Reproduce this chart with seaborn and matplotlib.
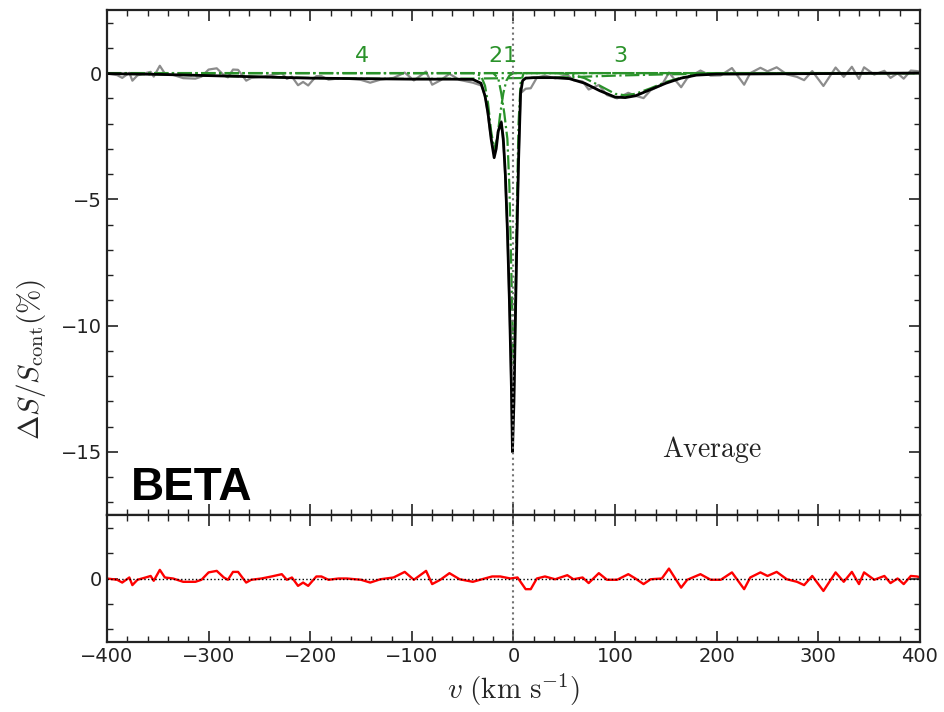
import matplotlib
matplotlib.use("Agg")
import matplotlib.pyplot as plt
from matplotlib.ticker import MultipleLocator
import seaborn as sns
import pandas as pd

spec_v = [-400, -390, -385, -378, -375, -370, -362, -357, -354, -348, -343, -335, -325, -313,
          -307, -300, -292, -285, -281, -276, -271, -263, -258, -248, -238, -228, -223, -218,
          -212, -207, -202, -194, -189, -182, -172, -164, -150, -141, -131, -118, -107, -98,
          -86, -80, -72, -63, -53, -40, -31, -27, -23, -19, -15, -12, -9, -6, -3, -1, 1, 3,
          5, 7, 12, 17, 23, 31, 41, 53, 59, 68, 74, 84, 92, 102, 113, 120, 128, 135, 146,
          153, 165, 171, 184, 194, 204, 215, 227, 233, 243, 250, 259, 269, 279, 286, 294,
          305, 317, 325, 333, 340, 345, 355, 365, 371, 378, 384, 391, 397, 400]
spec_vals = [-0.02, -0.08, -0.19, 0.01, -0.30, -0.09, 0.00, 0.05, -0.14, 0.29, -0.02, -0.07,
             -0.20, -0.22, -0.14, 0.14, 0.19, -0.08, -0.17, 0.14, 0.13, -0.30, -0.19, -0.15,
             -0.08, 0.00, -0.23, -0.14, -0.48, -0.35, -0.49, -0.12, -0.12, -0.26, -0.21, -0.22,
             -0.27, -0.38, -0.26, -0.19, 0.02, -0.29, 0.06, -0.46, -0.29, -0.03, -0.27, -0.38,
             -0.50, -1.10, -2.30, -3.20, -2.30, -1.90, -3.30, -6.20, -10.6, -14.8, -11.8, -7.2,
             -3.4, -0.8, -0.62, -0.60, -0.18, -0.10, -0.21, -0.07, -0.28, -0.33, -0.65, -0.47,
             -0.87, -1.00, -0.78, -0.90, -0.99, -0.68, -0.47, 0.02, -0.56, -0.20, 0.10, -0.10,
             -0.09, 0.20, -0.46, 0.00, 0.21, 0.07, 0.23, -0.05, -0.15, -0.28, 0.08, -0.51, 0.22,
             -0.15, 0.25, -0.23, 0.23, -0.06, 0.09, -0.19, -0.01, -0.22, 0.10, 0.08, 0.05]

# Total fit (black)
fit_v = [-400, -350, -300, -250, -200, -150, -100, -60, -40, -32, -28, -25, -22, -19, -17,
         -15, -12, -10, -8, -6, -4, -2, -1, 0.5, 2, 3.6, 5, 7, 9, 12, 20, 40, 55, 70, 85,
         100, 110, 120, 135, 150, 165, 180, 200, 250, 300, 350, 400]
fit_vals = [-0.02, -0.05, -0.10, -0.15, -0.20, -0.22, -0.24, -0.24, -0.25, -0.40, -0.90,
            -1.60, -2.60, -3.35, -3.00, -2.30, -1.95, -2.60, -4.00, -6.20, -9.00, -12.5,
            -15.0, -13.0, -9.5, -6.1, -3.5, -0.8, -0.3, -0.2, -0.18, -0.18, -0.22, -0.40,
            -0.70, -0.95, -0.97, -0.90, -0.65, -0.40, -0.20, -0.08, -0.04, -0.03, -0.02,
            -0.01, 0.00]

# Individual components (green dash-dot)
comp1_v = [-400, -20, -15, -12, -9, -6, -4, -2, 0, 1, 3, 5, 7, 10, 20, 400]
comp1_vals = [0, 0, -0.2, -0.8, -1.6, -2.6, -4.5, -8.0, -11.5, -11.5, -6.0, -2.0, -0.4, 0, 0, 0]
comp2_v = [-400, -40, -32, -28, -25, -22, -19, -16, -13, -10, -7, -4, 0, 400]
comp2_vals = [0, 0, -0.1, -0.5, -1.2, -2.3, -3.0, -2.6, -1.6, -0.8, -0.3, -0.1, 0, 0]
comp3_v = [-400, 40, 55, 70, 85, 100, 110, 120, 135, 150, 165, 180, 200, 220, 400]
comp3_vals = [0, 0, -0.03, -0.2, -0.5, -0.82, -0.88, -0.82, -0.6, -0.35, -0.18, -0.06, -0.01, 0, 0]
comp4_v = [-400, -350, -300, -250, -200, -150, -100, -50, 0, 50, 100, 150, 200, 250, 300, 400]
comp4_vals = [-0.02, -0.05, -0.10, -0.15, -0.19, -0.22, -0.23, -0.22, -0.20, -0.17, -0.10,
              -0.05, -0.02, -0.01, 0, 0]

comp_labels = ["1", "2", "3", "4"]
comp_label_v = [-4, -18, 105, -149]

# Residuals (red)
resid_v = [-400, -390, -385, -378, -375, -370, -362, -357, -354, -348, -343, -335, -325, -313,
           -307, -300, -292, -285, -281, -276, -271, -263, -258, -248, -238, -228, -223, -218,
           -212, -207, -202, -194, -189, -182, -172, -164, -150, -141, -131, -118, -107, -98,
           -86, -80, -72, -63, -53, -40, -31, -21, -13, -3, 4, 12, 17, 23, 31, 41, 53, 59, 68,
           74, 84, 92, 102, 113, 120, 128, 135, 146, 153, 165, 171, 184, 194, 204, 215, 227,
           233, 243, 250, 259, 269, 279, 286, 294, 305, 317, 325, 333, 340, 345, 355, 365,
           371, 378, 384, 391, 397, 400]
resid_vals = [0.0, -0.05, -0.16, 0.04, -0.26, -0.05, 0.04, 0.10, -0.09, 0.34, 0.04, 0.0,
              -0.13, -0.13, -0.05, 0.24, 0.30, 0.04, -0.05, 0.26, 0.26, -0.16, -0.05, 0.0,
              0.08, 0.17, -0.05, 0.04, -0.29, -0.16, -0.29, 0.08, 0.08, -0.05, 0.0, 0.0,
              -0.05, -0.16, -0.03, 0.04, 0.26, -0.05, 0.30, -0.22, -0.05, 0.21, -0.03, -0.13,
              -0.03, 0.08, 0.08, 0.0, 0.04, -0.42, -0.42, 0.0, 0.08, -0.03, 0.13, -0.03, 0.04,
              -0.18, 0.21, -0.05, -0.05, 0.17, 0.0, -0.22, -0.03, 0.0, 0.39, -0.36, -0.05,
              0.17, -0.05, -0.05, 0.24, -0.42, 0.04, 0.24, 0.10, 0.26, -0.03, -0.13, -0.26,
              0.10, -0.49, 0.24, -0.13, 0.26, -0.22, 0.24, -0.05, 0.10, -0.18, 0.0, -0.22,
              0.10, 0.08, 0.05]

sns.set_theme(style="ticks")
plt.rcParams.update({
    "font.family": ["DejaVu Sans"],
    "mathtext.fontset": "cm",
    "xtick.direction": "in",
    "ytick.direction": "in",
    "xtick.top": True,
    "ytick.right": True,
    "xtick.major.size": 8,
    "ytick.major.size": 8,
    "xtick.minor.size": 4,
    "ytick.minor.size": 4,
    "xtick.major.width": 1.2,
    "ytick.major.width": 1.2,
    "xtick.minor.width": 1.0,
    "ytick.minor.width": 1.0,
    "axes.linewidth": 1.6,
    "axes.edgecolor": "#222222",
    "xtick.color": "#222222",
    "ytick.color": "#222222",
})

fig = plt.figure(figsize=(9.45, 7.12), dpi=100)
ax = fig.add_axes([0.1132, 0.2767, 0.8603, 0.7093])
axr = fig.add_axes([0.1132, 0.0983, 0.8603, 0.1784], sharex=ax)

green = "#2a922a"

# Top panel: spectrum, components and total fit
spec = pd.DataFrame({"v": spec_v, "s": spec_vals})
sns.lineplot(data=spec, x="v", y="s", ax=ax, color="0.55", lw=1.6, sort=False)

comps = [(comp1_v, comp1_vals), (comp2_v, comp2_vals), (comp3_v, comp3_vals), (comp4_v, comp4_vals)]
for cv, cs in comps:
    sns.lineplot(x=cv, y=cs, ax=ax, color=green, lw=1.6, linestyle="-.", sort=False)

fit = pd.DataFrame({"v": fit_v, "s": fit_vals})
sns.lineplot(data=fit, x="v", y="s", ax=ax, color="black", lw=2, sort=False)

for lab, lv in zip(comp_labels, comp_label_v):
    ax.text(lv, 0.68, lab, color=green, fontsize=16, ha="center", va="center")

ax.axvline(0, color="0.45", lw=1.5, linestyle=":")
ax.text(195, -14.9, r"$\rm Average$", fontsize=20, ha="center", va="center", color="#222222")

ax.set_xlim(-400, 400)
ax.set_ylim(-17.5, 2.5)
ax.xaxis.set_major_locator(MultipleLocator(100))
ax.xaxis.set_minor_locator(MultipleLocator(20))
ax.yaxis.set_major_locator(MultipleLocator(5))
ax.yaxis.set_minor_locator(MultipleLocator(1))
ax.tick_params(axis="x", which="both", labelbottom=False)
ax.tick_params(which="both", top=True, right=True, labelsize=14)
ax.set_xlabel("")
ax.set_ylabel(r"$\Delta S/S_{\rm cont}(\%)$", fontsize=21)
ax.yaxis.set_label_coords(-0.072, 0.307)

# Bottom panel: residuals
resid = pd.DataFrame({"v": resid_v, "r": resid_vals})
sns.lineplot(data=resid, x="v", y="r", ax=axr, color="red", lw=1.7, sort=False)
axr.axhline(0, color="black", lw=1, linestyle=":")
axr.axvline(0, color="0.45", lw=1.5, linestyle=":")
axr.set_ylim(-2.5, 2.5)
axr.yaxis.set_major_locator(MultipleLocator(5))
axr.yaxis.set_minor_locator(MultipleLocator(1))
axr.tick_params(which="both", top=True, right=True, labelsize=14)
axr.set_xlabel(r"$v\ (\rm km\ s^{-1})$", fontsize=21)
axr.set_ylabel("")

fig.text(0.138, 0.298, "BETA", fontsize=33, fontweight="bold", color="black",
         family=["Liberation Sans", "DejaVu Sans"], ha="left", va="baseline")

plt.savefig("out.png", dpi=100)
plt.close()
